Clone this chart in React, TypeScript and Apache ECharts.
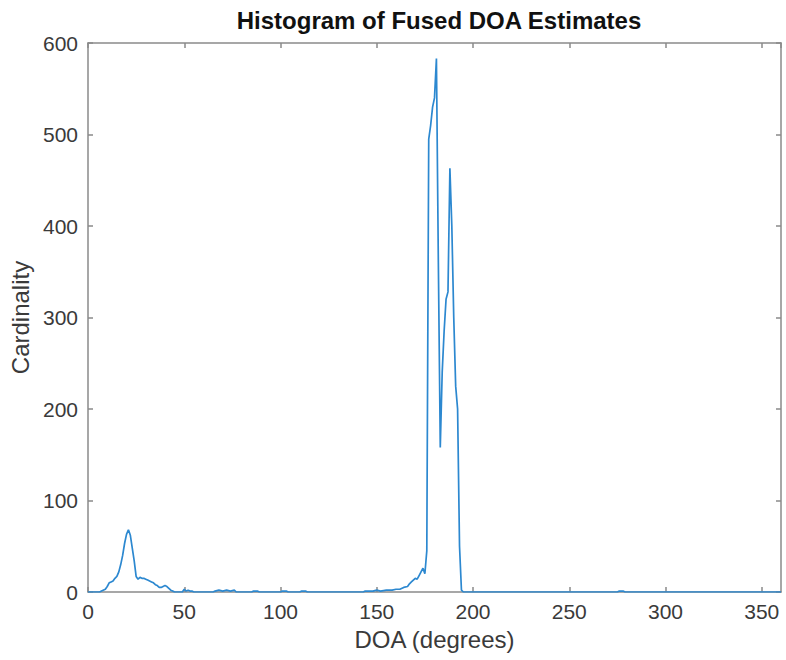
import React, { useEffect, useRef } from "react";
import * as echarts from "echarts";

// Direction-of-arrival bins (degrees) and the number of fused estimates in each
const doaDeg = [
  0, 6, 7, 9, 10, 11, 12, 13, 14, 15, 16, 17, 18, 19, 20, 21, 22, 23, 24, 25,
  26, 27, 28, 29, 30, 31, 32, 33, 34, 35, 36, 37, 38, 39, 40, 41, 42, 43, 44, 45,
  49, 50, 51, 52, 53, 54, 55, 65, 66, 68, 70, 72, 74, 76, 77, 85, 86, 88, 89,
  100, 101, 103, 104, 110, 111, 113, 114, 143, 144, 148, 150, 152, 155, 158,
  160, 162, 164, 166, 167, 168, 169, 170, 171, 172, 173, 174, 175, 176, 177,
  178, 179, 180, 181, 182, 183, 184, 185, 186, 187, 188, 189, 190, 191, 192,
  193, 194, 195, 275, 276, 278, 279, 360,
];
const cardinality = [
  0, 0, 1, 3, 6, 10, 11, 12, 15, 17, 22, 30, 40, 53, 63, 68, 62, 48, 34, 17,
  14, 16, 15, 15, 14, 13, 12, 11, 10, 8, 7, 5, 5, 6, 7, 6, 4, 2, 1, 0,
  0, 3, 1, 2, 1, 1, 0, 0, 1, 2, 1, 2, 1, 2, 0, 0, 1, 1, 0,
  0, 1, 1, 0, 0, 1, 1, 0, 0, 1, 1, 2, 1, 2, 2,
  3, 3, 5, 6, 9, 11, 13, 15, 14, 18, 22, 26, 20, 45, 495,
  510, 530, 540, 583, 360, 158, 240, 285, 320, 328, 463, 400, 300, 225, 200,
  50, 2, 0, 0, 1, 1, 0, 0,
];

const FONT = "'Liberation Sans', Arial, Helvetica, sans-serif";
const AXIS_COLOR = "#8a8a8a";
const LABEL_COLOR = "#3a3a3a";

export default function App() {
  const ref = useRef<HTMLDivElement>(null);

  useEffect(() => {
    if (!ref.current) return;
    const chart = echarts.init(ref.current, undefined, { renderer: "svg" });

    const boxAxisLine = { show: true, onZero: false, lineStyle: { color: AXIS_COLOR, width: 1.5 } };
    const boxTick = { show: true, inside: true, length: 5, lineStyle: { color: AXIS_COLOR, width: 1.5 } };

    chart.setOption({
      animation: false,
      backgroundColor: "#ffffff",
      title: {
        text: "Histogram of Fused DOA Estimates",
        left: 434,
        top: 3,
        textAlign: "center",
        textStyle: { fontFamily: FONT, fontSize: 24, fontWeight: "bold", color: "#111" },
      },
      grid: { left: 88, right: 5, top: 43, bottom: 68 },
      xAxis: [
        {
          type: "value",
          position: "bottom",
          min: 0,
          max: 360,
          interval: 50,
          name: "DOA (degrees)",
          nameLocation: "middle",
          nameGap: 35,
          nameTextStyle: { fontFamily: FONT, fontSize: 24, color: LABEL_COLOR },
          axisLine: boxAxisLine,
          axisTick: boxTick,
          axisLabel: {
            fontFamily: FONT,
            fontSize: 21,
            color: LABEL_COLOR,
            margin: 9,
            showMaxLabel: false,
          },
          splitLine: { show: false },
        },
        {
          type: "value",
          position: "top",
          min: 0,
          max: 360,
          interval: 50,
          axisLine: boxAxisLine,
          axisTick: boxTick,
          axisLabel: { show: false },
          splitLine: { show: false },
        },
      ],
      yAxis: [
        {
          type: "value",
          position: "left",
          min: 0,
          max: 600,
          interval: 100,
          name: "Cardinality",
          nameLocation: "middle",
          nameGap: 52,
          nameTextStyle: { fontFamily: FONT, fontSize: 24, color: LABEL_COLOR },
          axisLine: boxAxisLine,
          axisTick: boxTick,
          axisLabel: { fontFamily: FONT, fontSize: 21, color: LABEL_COLOR, margin: 10 },
          splitLine: { show: false },
        },
        {
          type: "value",
          position: "right",
          min: 0,
          max: 600,
          interval: 100,
          axisLine: boxAxisLine,
          axisTick: boxTick,
          axisLabel: { show: false },
          splitLine: { show: false },
        },
      ],
      series: [
        {
          type: "line",
          xAxisIndex: 0,
          yAxisIndex: 0,
          data: doaDeg.map((d, i) => [d, cardinality[i]]),
          showSymbol: false,
          symbol: "none",
          lineStyle: { color: "#2c88d0", width: 1.7 },
          z: 5,
        },
      ],
    });

    return () => chart.dispose();
  }, []);

  return (
    <div
      ref={ref}
      style={{ position: "absolute", left: 0, top: 0, width: 786, height: 660 }}
    />
  );
}
